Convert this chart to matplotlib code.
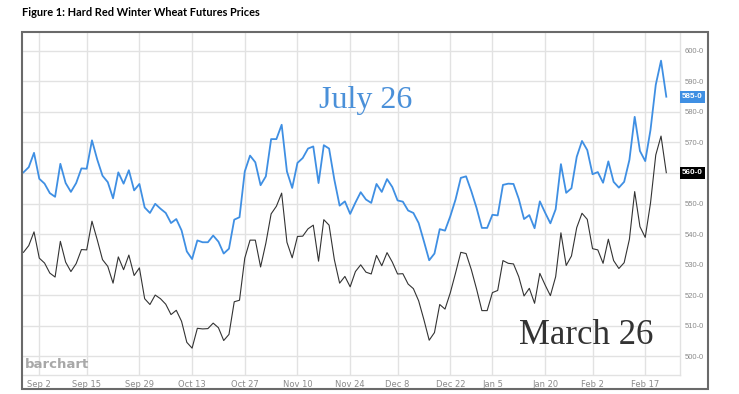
import numpy as np
import pandas as pd
import matplotlib
matplotlib.use("Agg")
import matplotlib.pyplot as plt
import matplotlib.transforms as mtransforms
from matplotlib.patches import Rectangle

# trading days shown on the chart (Aug 27 2025 .. Feb 23 2026)
holidays = ["2025-09-01", "2025-11-27", "2025-12-25", "2026-01-01",
            "2026-01-19", "2026-02-16"]
dates = pd.bdate_range("2025-08-27", "2026-02-23", freq="C", holidays=holidays)

# July 26 contract (blue)
july = [560.2, 561.9, 566.6, 558.1, 556.5, 553.4, 552.2, 563.0, 556.7, 553.8,
        556.7, 561.5, 561.4, 570.7, 564.4, 559.1, 557.0, 551.7, 560.2, 556.5,
        560.9, 554.3, 556.4, 548.7, 546.9, 549.9, 548.3, 546.9, 543.6, 544.9,
        541.2, 534.3, 531.8, 537.9, 537.3, 537.3, 539.5, 537.5, 533.6, 535.2,
        544.7, 545.5, 560.5, 565.7, 563.5, 556.0, 558.9, 571.1, 571.1, 575.8,
        560.5, 555.1, 563.3, 564.9, 568.0, 568.7, 556.7, 569.1, 568.0, 557.8,
        549.3, 550.7, 546.6, 550.3, 553.7, 551.3, 550.2, 556.4, 553.8, 558.0,
        555.4, 551.0, 550.6, 547.7, 546.9, 543.6, 537.6, 531.4, 533.6, 541.6,
        541.1, 545.8, 551.3, 558.4, 558.9, 554.0, 548.5, 542.0, 542.0, 546.3,
        546.1, 556.1, 556.5, 556.4, 551.5, 544.9, 546.2, 541.9, 550.7, 547.0,
        543.5, 548.1, 562.9, 553.5, 555.0, 565.3, 570.5, 567.5, 559.6, 560.3,
        556.8, 563.8, 557.1, 555.2, 557.1, 564.3, 578.4, 567.2, 563.9, 574.1,
        588.9, 596.8, 585.0]

# March 26 contract (black)
march = [534.0, 536.2, 540.7, 532.1, 530.5, 527.2, 525.9, 537.6, 530.8, 527.7,
         530.3, 534.9, 534.8, 544.2, 538.1, 531.6, 529.4, 523.9, 532.5, 528.3,
         533.1, 526.4, 528.9, 518.8, 516.9, 520.0, 518.8, 517.0, 513.6, 515.0,
         511.4, 504.5, 502.6, 509.1, 508.9, 509.0, 510.8, 509.3, 505.1, 507.1,
         517.8, 518.3, 532.1, 538.0, 538.0, 529.2, 537.0, 546.6, 549.1, 553.4,
         537.3, 532.2, 539.2, 539.3, 541.7, 542.9, 531.1, 544.7, 542.9, 531.6,
         523.9, 526.1, 522.7, 527.7, 529.9, 527.5, 526.9, 533.0, 529.6, 533.9,
         530.8, 526.9, 527.0, 523.6, 522.1, 518.1, 511.9, 505.2, 507.7, 516.9,
         515.4, 520.7, 527.2, 534.0, 533.6, 528.3, 521.9, 514.9, 514.9, 520.8,
         521.5, 531.3, 530.4, 530.2, 526.0, 519.7, 522.2, 517.3, 527.1, 523.3,
         519.8, 526.0, 540.4, 529.7, 532.8, 542.1, 546.8, 544.8, 535.2, 534.8,
         530.4, 538.3, 531.3, 528.7, 530.6, 538.3, 553.9, 542.4, 538.9, 550.1,
         565.9, 572.1, 560.1]

tick_dates = ["2025-09-02", "2025-09-15", "2025-09-29", "2025-10-13",
              "2025-10-27", "2025-11-10", "2025-11-24", "2025-12-08",
              "2025-12-22", "2026-01-05", "2026-01-20", "2026-02-02",
              "2026-02-17"]
tick_labels = ["Sep 2", "Sep 15", "Sep 29", "Oct 13", "Oct 27", "Nov 10",
               "Nov 24", "Dec 8", "Dec 22", "Jan 5", "Jan 20", "Feb 2", "Feb 17"]
price_ticks = [500, 510, 520, 530, 540, 550, 560, 570, 580, 590, 600]

W, H = 739, 394
fig = plt.figure(figsize=(W / 100, H / 100), dpi=100)
fig.patch.set_facecolor("white")

def fx(px):
    return px / W

def fy(py):
    return 1 - py / H

ax = fig.add_axes([fx(22), fy(375), fx(680) - fx(22), fy(32) - fy(375)])
x = np.arange(len(dates))
ax.plot(x, march, color="#333333", lw=0.8, zorder=3)
ax.plot(x, july, color="#3f8fe3", lw=1.3, zorder=4)

ax.set_xlim(-0.28, 124.6)
ax.set_ylim(493.8, 606.2)

ticks = dates.get_indexer(pd.to_datetime(tick_dates))
ax.set_xticks(ticks)
ax.set_xticklabels(tick_labels)
ax.yaxis.tick_right()
ax.set_yticks(price_ticks)
# the 560 label sits under the black last-price flag
ax.set_yticklabels(["" if p == 560 else "%d-0" % p for p in price_ticks])
ax.tick_params(length=0, labelsize=5.5, labelcolor="#8a8a8a")
ax.tick_params(axis="x", pad=3.5, labelsize=6)
ax.tick_params(axis="y", pad=3.5)
for lab in ax.get_yticklabels():
    lab.set_family("Liberation Sans")
ax.grid(True, color="#e2e2e2", lw=1)
ax.set_axisbelow(True)
for s in ["top", "left"]:
    ax.spines[s].set_visible(False)
for s in ["bottom", "right"]:
    ax.spines[s].set_color("#e2e2e2")
    ax.spines[s].set_linewidth(1)

# last price flags
tr = mtransforms.blended_transform_factory(ax.transAxes, ax.transData)
ax.text(1.003, july[-1], "585-0", transform=tr, fontsize=5.8, fontweight="bold",
        family="Liberation Sans", color="white", va="center", ha="left",
        clip_on=False,
        bbox=dict(boxstyle="square,pad=0.3", fc="#3f8fe3", ec="none"))
ax.text(1.003, march[-1], "560-0", transform=tr, fontsize=5.8, fontweight="bold",
        family="Liberation Sans", color="white", va="center", ha="left",
        clip_on=False,
        bbox=dict(boxstyle="square,pad=0.3", fc="black", ec="none"))

# series names
ax.text(0.523, 0.8, "July 26", transform=ax.transAxes, fontsize=23,
        family="Liberation Serif", color="#4a90d9", ha="center", va="center")
ax.text(0.857, 0.115, "March 26", transform=ax.transAxes, fontsize=25,
        family="Liberation Serif", color="#333333", ha="center", va="center")
ax.text(0.004, 0.03, "barchart", transform=ax.transAxes, fontsize=9.5,
        fontweight="bold", color="#a8a8a8", ha="left", va="center")

# outer frame
fig.patches.append(Rectangle((fx(22), fy(389)), fx(708) - fx(22), fy(32) - fy(389),
                             transform=fig.transFigure, fill=False,
                             ec="#6a6a6a", lw=1.5))

fig.text(fx(22), fy(12), "Figure 1: Hard Red Winter Wheat Futures Prices",
         fontsize=7.9, fontweight="bold", family="Lato", color="black",
         ha="left", va="center")

fig.savefig("out.png", dpi=100)
